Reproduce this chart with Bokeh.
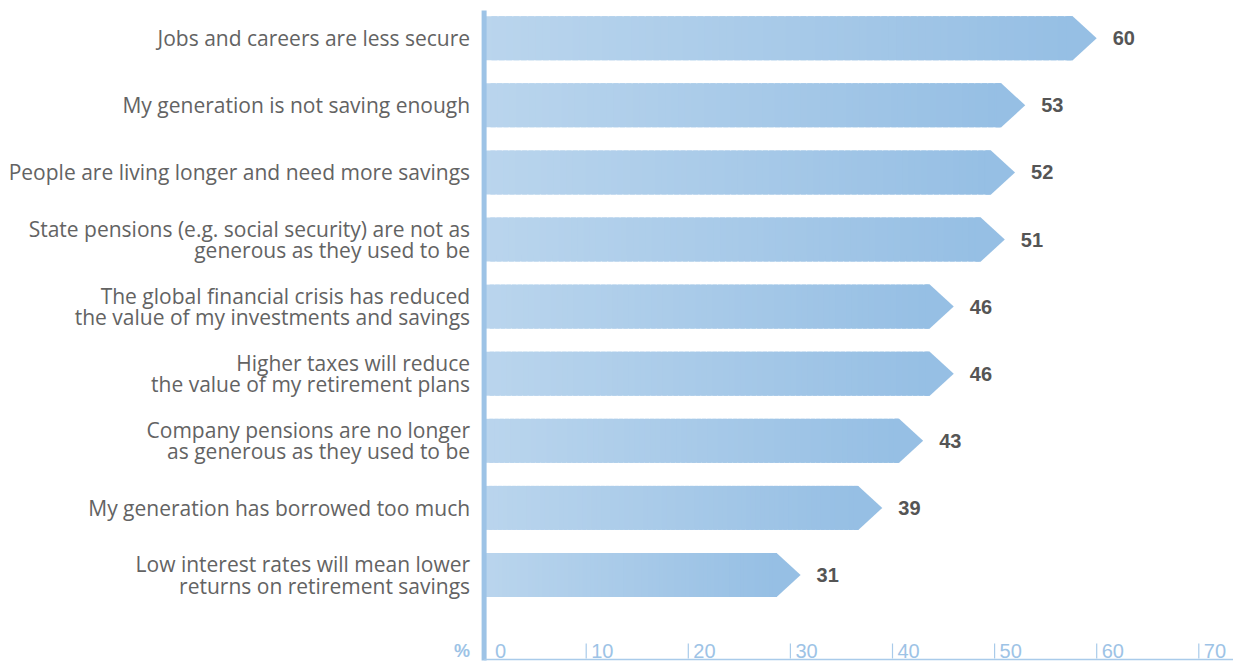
from bokeh.plotting import figure
from bokeh.models import Range1d
from bokeh.embed import file_html
from bokeh.resources import INLINE
from bokeh.core.properties import value

categories = [
    "Jobs and careers are less secure",
    "My generation is not saving enough",
    "People are living longer and need more savings",
    "State pensions (e.g. social security) are not as\ngenerous as they used to be",
    "The global financial crisis has reduced\nthe value of my investments and savings",
    "Higher taxes will reduce\nthe value of my retirement plans",
    "Company pensions are no longer\nas generous as they used to be",
    "My generation has borrowed too much",
    "Low interest rates will mean lower\nreturns on retirement savings",
]
values = [60, 53, 52, 51, 46, 46, 43, 39, 31]
tick_values = [0, 10, 20, 30, 40, 50, 60, 70]
tick_labels = ["0", "10", "20", "30", "40", "50", "60", "70"]

W, H = 1233, 661
X0_PX = 483.6          # pixel of value 0
PX_PER_UNIT = 10.21
Y0_PX = 37.7           # pixel of first bar centre
PX_PER_ROW = 67.1

def y_of_px(py):
    return (py - Y0_PX) / PX_PER_ROW

def x_of_px(px):
    return (px - X0_PX) / PX_PER_UNIT

p = figure(width=W, height=H, output_backend="svg", toolbar_location=None,
           x_range=Range1d(x_of_px(0), x_of_px(W)),
           y_range=Range1d(y_of_px(H), y_of_px(0)),
           min_border=0, x_axis_location=None, y_axis_location=None,
           outline_line_color=None, background_fill_color="white")
p.grid.visible = False

half = 22 / PX_PER_ROW
head = 24 / PX_PER_UNIT

c_left = (0xBA, 0xD5, 0xED)
c_right = (0x96, 0xBF, 0xE4)

def mix(t):
    r = [round(a + (b - a) * t) for a, b in zip(c_left, c_right)]
    return "#%02x%02x%02x" % tuple(r)

N = 80
ql, qr, qb, qt, qc = [], [], [], [], []
hx, hy = [], []
for i, v in enumerate(values):
    body = v - head
    step = body / N
    for k in range(N):
        a = step * k
        b = step * (k + 1) + (step * 0.8 if k < N - 1 else 0.0)
        ql.append(a)
        qr.append(b)
        qb.append(i + half)
        qt.append(i - half)
        qc.append(mix((k + 1) / N))
    hx.append([body - step * 0.8, body, v, body, body - step * 0.8])
    hy.append([i - half, i - half, i, i + half, i + half])

p.quad(left=ql, right=qr, top=qt, bottom=qb, fill_color=qc, line_color=None)
p.patches(hx, hy, fill_color=mix(1.0), line_color=None)

# axis lines
p.segment(x0=[0], y0=[y_of_px(10)], x1=[0], y1=[y_of_px(660)],
          line_color="#9dc3e6", line_width=5)
p.segment(x0=[0], y0=[y_of_px(659)], x1=[x_of_px(W)], y1=[y_of_px(659)],
          line_color="#a9cbea", line_width=1.5)

SANS = value("Liberation Sans")
LABEL_FONT = value("Open Sans")

# ticks
tv = [t for t in tick_values if t != 0]
p.segment(x0=tv, y0=[y_of_px(643)] * len(tv), x1=tv, y1=[y_of_px(658)] * len(tv),
          line_color="#a9cbea", line_width=1.2)
offs = [11 if t == 0 else 5 for t in tick_values]
p.text(x=tick_values, y=[y_of_px(650)] * len(tick_values), text=tick_labels,
       x_offset=offs, text_align="left", text_baseline="middle",
       text_font=SANS, text_font_size="20px", text_color="#9dc3e6")
p.text(x=[0], y=[y_of_px(650)], text=["%"], x_offset=[-14], text_align="right",
       text_baseline="middle", text_font=SANS, text_font_style="bold",
       text_font_size="18px", text_color="#9dc3e6")

# category labels
ys = list(range(len(categories)))
p.text(x=[0] * len(categories), y=ys, text=categories, x_offset=-14,
       text_align="right", text_baseline="middle", text_font=LABEL_FONT,
       text_font_size="21px", text_color="#636363", text_line_height=0.76)

# value labels
p.text(x=values, y=ys, text=[str(v) for v in values], x_offset=16,
       text_align="left", text_baseline="middle", text_font=SANS,
       text_font_style="bold", text_font_size="20px", text_color="#555555")

open("out.html", "w").write(file_html(p, INLINE))
